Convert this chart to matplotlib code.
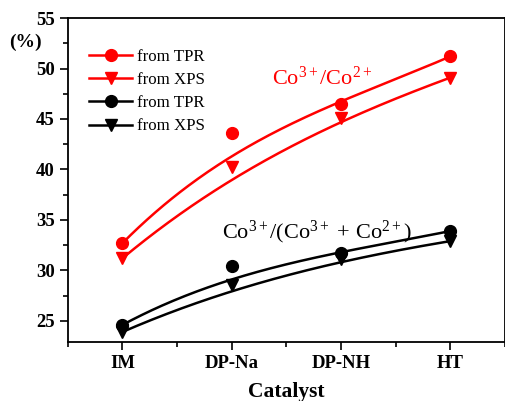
import numpy as np
import matplotlib
matplotlib.use("Agg")
import matplotlib.pyplot as plt
from matplotlib.ticker import MultipleLocator
from math import comb

plt.rcParams['font.family'] = ['Liberation Serif', 'DejaVu Serif']
plt.rcParams['mathtext.fontset'] = 'custom'
plt.rcParams['mathtext.rm'] = 'Liberation Serif'
plt.rcParams['mathtext.it'] = 'Liberation Serif:italic'
plt.rcParams['mathtext.bf'] = 'Liberation Serif:bold'

categories = ["IM", "DP-Na", "DP-NH", "HT"]
ratio_tpr = [32.7, 43.6, 46.5, 51.2]
ratio_xps = [31.2, 40.2, 45.1, 49.1]
frac_tpr = [24.6, 30.4, 31.7, 33.9]
frac_xps = [23.9, 28.6, 31.1, 32.9]


def bezier(xs, ys, n=200):
    pts = np.column_stack([xs, ys]).astype(float)
    t = np.linspace(0, 1, n)
    m = len(pts) - 1
    out = np.zeros((n, 2))
    for i, p in enumerate(pts):
        out += comb(m, i) * (t ** i)[:, None] * ((1 - t) ** (m - i))[:, None] * p
    return out[:, 0], out[:, 1]


fig = plt.figure(figsize=(5.06, 4.01), dpi=100)
ax = fig.add_axes([0.134, 0.147, 0.864, 0.808])
x = np.arange(len(categories))

series = [
    (ratio_tpr, 'red', 'o', 'from TPR'),
    (ratio_xps, 'red', 'v', 'from XPS'),
    (frac_tpr, 'black', 'o', 'from TPR'),
    (frac_xps, 'black', 'v', 'from XPS'),
]
handles = []
for ys, c, m, lab in series:
    bx, by = bezier(x, ys)
    ax.plot(bx, by, color=c, lw=1.8)
    ax.plot(x, ys, linestyle='none', marker=m, color=c, markersize=8.5)
    h, = ax.plot([], [], color=c, lw=1.8, marker=m, markersize=8.5, label=lab)
    handles.append(h)

ax.legend(handles=handles, loc='upper left', bbox_to_anchor=(0.034, 0.925),
          frameon=False, fontsize=12.2, handlelength=2.5, handletextpad=0.3,
          labelspacing=0.42, borderaxespad=0)

ax.text(1.37, 48.4, r'$\mathrm{Co}^{3+}/\mathrm{Co}^{2+}$', color='red', fontsize=16, va='baseline')
ax.text(0.91, 33.2, r'$\mathrm{Co}^{3+}/(\mathrm{Co}^{3+}\,+\,\mathrm{Co}^{2+})$', color='black', fontsize=16, va='baseline')

ax.set_xlim(-0.5, 3.5)
ax.set_ylim(22.9, 55)
ax.set_xticks(x)
ax.set_xticklabels(categories)
ax.xaxis.set_minor_locator(MultipleLocator(0.5))
ax.yaxis.set_major_locator(MultipleLocator(5))
ax.yaxis.set_minor_locator(MultipleLocator(2.5))
ax.tick_params(which='both', direction='out', top=False, right=False, width=1.2)
ax.tick_params(which='major', length=6, labelsize=13.5)
ax.tick_params(which='minor', length=3.5)
for lab in ax.get_xticklabels() + ax.get_yticklabels():
    lab.set_fontweight('bold')
for s in ax.spines.values():
    s.set_linewidth(1.3)
ax.set_xlabel('Catalyst', fontsize=15.5, fontweight='bold', labelpad=7)
fig.text(0.05, 0.895, '(%)', fontsize=14, fontweight='bold', ha='center', va='center')

fig.savefig('out.png', dpi=100)
